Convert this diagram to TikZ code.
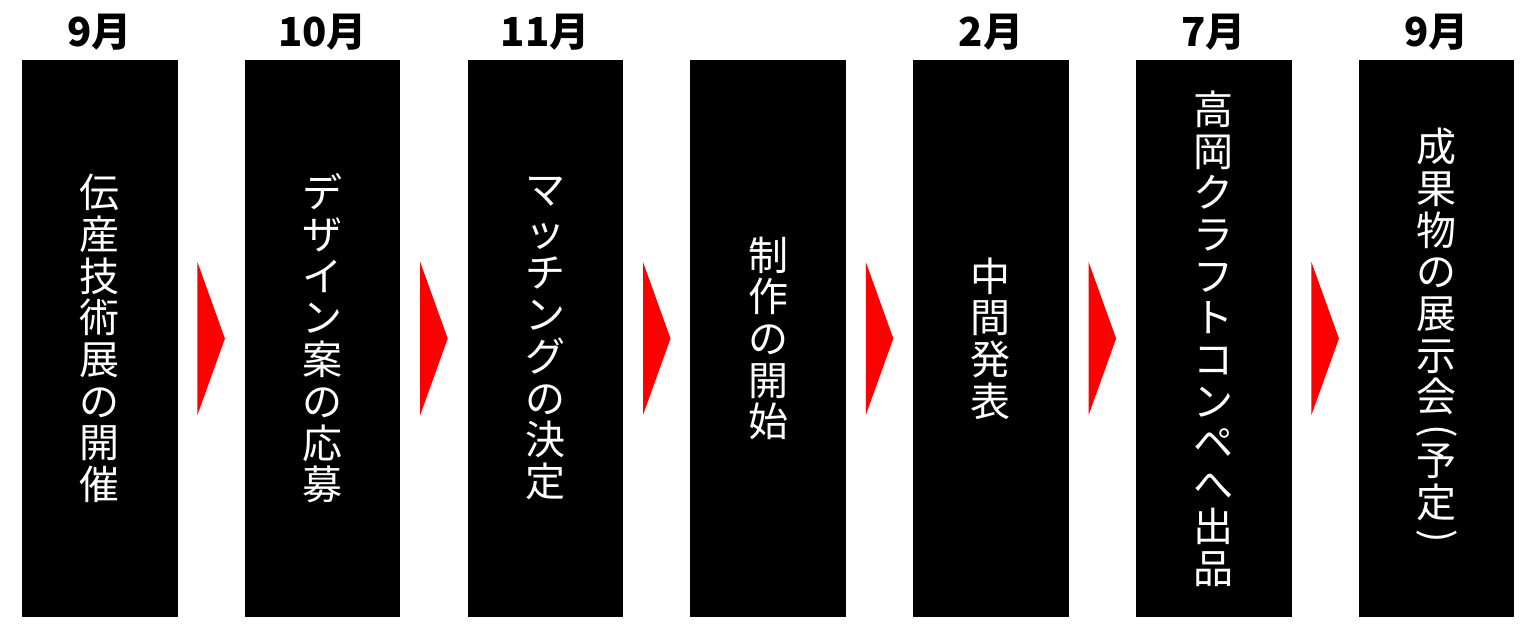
\documentclass[tikz,border=0pt]{standalone}
\usepackage{fontspec}
\usepackage{graphicx}
\newfontfamily\jpfont{Noto Sans CJK JP}
\usetikzlibrary{calc}
\newcommand{\tateopen}{\rotatebox[origin=c]{-90}{(}}
\newcommand{\tateclose}{\rotatebox[origin=c]{-90}{)}}
\begin{document}
\begin{tikzpicture}[%
            x=0.5pt, y=0.5pt,
            stagebox/.style={fill=black, text=white, inner sep=0pt,
                minimum width=77.75pt, minimum height=278.5pt, align=center,
                font=\jpfont\fontsize{20}{20.85}\selectfont},
            monthlabel/.style={inner sep=0pt, font=\jpfont\bfseries\fontsize{20}{24}\selectfont},
            stagearrow/.style={fill=red}
    ]
        \useasboundingbox (0,0) rectangle (1536,642);

        \node [stagebox] (s1) at (99.75,303.5) {伝\\産\\技\\術\\展\\の\\開\\催};
        \node [stagebox] (s2) at (322.55,303.5) {デ\\ザ\\イ\\ン\\案\\の\\応\\募};
        \node [stagebox] (s3) at (545.35,303.5) {マ\\ッ\\チ\\ン\\グ\\の\\決\\定};
        \node [stagebox] (s4) at (768.15,303.5) {制\\作\\の\\開\\始};
        \node [stagebox] (s5) at (990.95,303.5) {中\\間\\発\\表};
        \node [stagebox] (s6) at (1213.75,303.5) {高\\岡\\ク\\ラ\\フ\\ト\\コ\\ン\\ペ\\へ\\出\\品};
        \node [stagebox] (s7) at (1436.55,303.5) {成\\果\\物\\の\\展\\示\\会\\[-5pt]\tateopen\\[-5pt]予\\定\\[-5pt]\tateclose};

        \node [monthlabel] (m1) at ($(s1.north)+(0,27)$) {9月};
        \node [monthlabel] (m2) at ($(s2.north)+(0,27)$) {10月};
        \node [monthlabel] (m3) at ($(s3.north)+(0,27)$) {11月};
        \node [monthlabel] (m5) at ($(s5.north)+(0,27)$) {2月};
        \node [monthlabel] (m6) at ($(s6.north)+(0,27)$) {7月};
        \node [monthlabel] (m7) at ($(s7.north)+(0,27)$) {9月};

        \foreach \i in {1,...,6}
            \fill [stagearrow] ($(s\i.east)+(19.5,76.5)$) -- ($(s\i.east)+(47,0)$)
                -- ($(s\i.east)+(19.5,-76.5)$) -- cycle;
    \end{tikzpicture}
\end{document}
